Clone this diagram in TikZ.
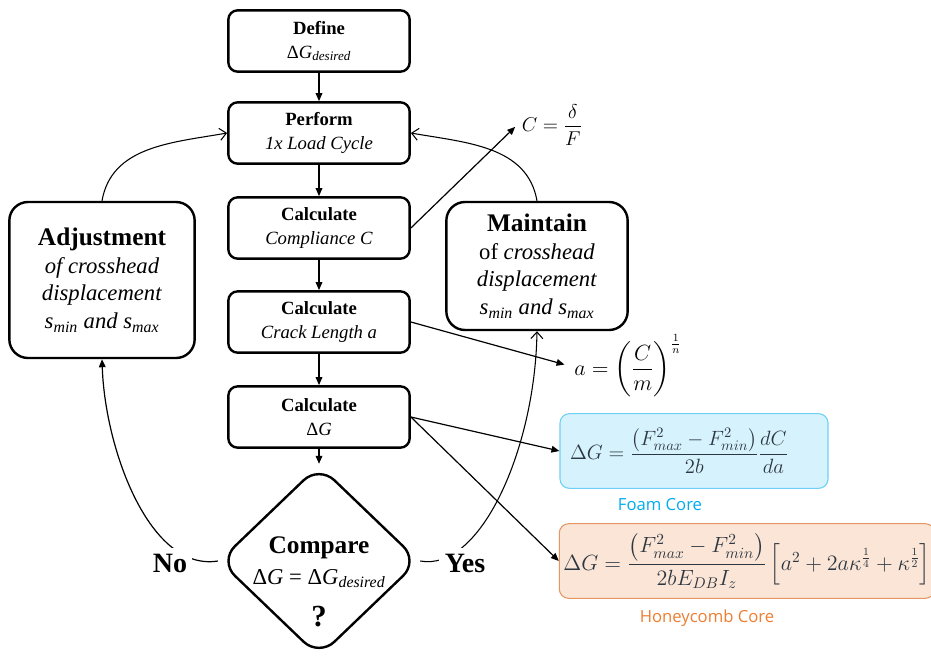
\RequirePackage{fix-cm}
\documentclass[tikz,border=0pt]{standalone}
\usepackage{amsmath}
\usepackage[no-math]{fontspec}
\setmainfont{Liberation Serif}
\newfontfamily\capfont{Open Sans}
\usetikzlibrary{arrows.meta,shapes.geometric}
\definecolor{foamfill}{RGB}{214,243,253}
\definecolor{foamline}{RGB}{110,208,245}
\definecolor{foamtxt}{RGB}{0,172,238}
\definecolor{honeyfill}{RGB}{251,229,214}
\definecolor{honeyline}{RGB}{228,150,100}
\definecolor{honeytxt}{RGB}{237,125,49}
\definecolor{eqtxt}{RGB}{45,55,65}
\tikzset{stepbox/.style={draw,line width=1.8pt,rounded corners=7pt,minimum width=136pt,minimum height=46pt,align=center,inner sep=2pt,font=\fontsize{14}{18}\selectfont},
 sidebox/.style={stepbox,rounded corners=14pt,font=\fontsize{17}{20.8}\selectfont},
 decide/.style={draw,diamond,line width=1.8pt,rounded corners=16pt,minimum width=150pt,minimum height=144pt,inner sep=0pt},
 eqbox/.style={draw,line width=.8pt,rounded corners=7pt,minimum height=56pt,inner sep=3pt,font=\fontsize{15.5}{19}\selectfont},
 arr/.style={-{Triangle[length=6pt,width=5pt]},line width=.9pt},
 openarr/.style={-{Straight Barb[length=5pt,width=9pt]},line width=.8pt},
 ans/.style={font=\fontsize{21}{24}\selectfont\bfseries,fill=white,inner sep=4pt},
 eq/.style={font=\fontsize{15}{18}\selectfont}}

\begin{document}
\begin{tikzpicture}[x=0.75pt,y=-0.75pt]
\useasboundingbox (0,0) rectangle (931,657);
% main column
\node[stepbox] (define) at (319,41) {\textbf{Define}\\Δ\textit{G}\textsubscript{\textit{desired}}};
\node[stepbox] (perform) at (319,133) {\textbf{Perform}\\\textit{1x Load Cycle}};
\node[stepbox] (compl) at (319,228) {\textbf{Calculate}\\\textit{Compliance C}};
\node[stepbox] (crack) at (319,322) {\textbf{Calculate}\\\textit{Crack Length a}};
\node[stepbox] (calcg) at (319,417) {\textbf{Calculate}\\Δ\textit{G}};
\node[decide] (compare) at (319,561) {};
\node[align=center,font=\fontsize{17}{23}\selectfont] (cmptxt) at (319,582) {{\fontsize{19}{23}\selectfont\textbf{Compare}}\\Δ\textit{G} = Δ\textit{G}\textsubscript{\textit{desired}}\\[9pt]{\fontsize{23}{26}\selectfont\textbf{?}}};
% side boxes
\node[sidebox,minimum width=139pt,minimum height=117pt] (adjust) at (102,280) {{\fontsize{19}{21}\selectfont\textbf{Adjustment}}\\\textit{of crosshead}\\\textit{displacement}\\\textit{s}\textsubscript{\textit{min}} \textit{and s}\textsubscript{\textit{max}}};
\node[sidebox,minimum width=136pt,minimum height=96pt] (maintain) at (537,266) {{\fontsize{19}{21}\selectfont\textbf{Maintain}}\\of \textit{crosshead}\\\textit{displacement}\\\textit{s}\textsubscript{\textit{min}} \textit{and s}\textsubscript{\textit{max}}};
% equations
\node[eq] (ceq) at (552,125) {$C=\dfrac{\delta}{F}$};
\node[eq,font=\fontsize{16.5}{19}\selectfont] (aeq) at (628,366) {$a=\left(\dfrac{C}{m}\right)^{\frac{1}{n}}$};
\node[eqbox,draw=foamline,fill=foamfill,text=eqtxt,minimum width=201pt,text width=186pt,align=left] (foam) at (694,451) {$\Delta G=\dfrac{\left(F_{max}^2-F_{min}^2\right)}{2b}\dfrac{dC}{da}$};
\node[font=\capfont\fontsize{12.5}{15}\selectfont,text=foamtxt] (foamlbl) at (660,505) {Foam Core};
\node[eqbox,draw=honeyline,fill=honeyfill,text=eqtxt,minimum width=281pt,font=\fontsize{16.5}{19}\selectfont] (honey) at (747,561) {$\Delta G=\dfrac{\left(F_{max}^2-F_{min}^2\right)}{2bE_{DB}I_z}\left[a^2+2a\kappa^{\frac{1}{4}}+\kappa^{\frac{1}{2}}\right]$};
\node[font=\capfont\fontsize{12.5}{15}\selectfont,text=honeytxt] (honeylbl) at (707,618) {Honeycomb Core};
% connectors
\draw[arr] (define) -- (perform);
\draw[arr] (perform) -- (compl);
\draw[arr] (compl) -- (crack);
\draw[arr] (crack) -- (calcg);
\draw[arr] (calcg) -- (compare.north);
\draw[arr,shorten >=2pt] (compl.east) -- (ceq.west);
\draw[arr,shorten >=4pt] (crack.east) -- (aeq.west);
\draw[arr] (calcg.east) -- (foam.west);
\draw[arr] (calcg.east) -- (honey.west);
\draw[openarr] (adjust.north) to[out=80,in=190] (perform.west);
\draw[openarr] (maintain.north) to[out=100,in=-10] (perform.east);
\draw[arr] (compare.west) .. controls (150,572) and (105,450) .. (adjust.south);
\draw[openarr] (compare.east) .. controls (480,572) and (535,450) .. (maintain.south);
\node[ans] (no) at (170,563) {No};
\node[ans] (yes) at (465,563) {Yes};
\end{tikzpicture}
\end{document}
